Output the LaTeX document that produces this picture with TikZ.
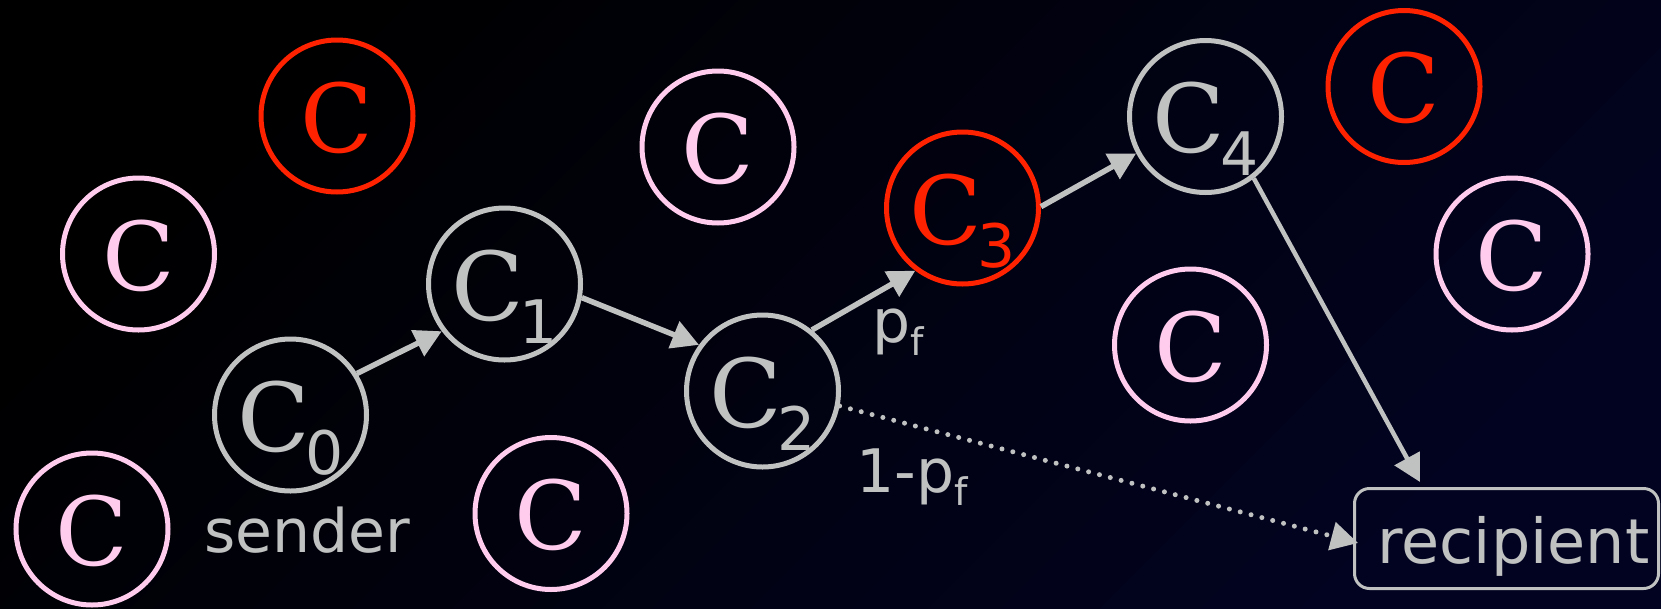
\documentclass[tikz,border=0pt]{standalone}
\usepackage{fontspec}
\setmainfont{DejaVu Sans}
\newfontfamily\cserif{DejaVu Serif}
\usetikzlibrary{arrows.meta,calc}
\definecolor{cred}{RGB}{255,34,0}
\definecolor{cpink}{RGB}{255,204,238}
\definecolor{cgray}{RGB}{192,194,194}
\definecolor{bgnavy}{RGB}{2,3,32}
\newcommand{\bigC}{{\fontsize{95}{95}\selectfont\cserif C}}
\newcommand{\Csub}[1]{\bigC\kern-5pt\raisebox{-23pt}{\fontsize{60}{60}\selectfont #1}}
\newcommand{\labsub}[1]{\raisebox{-13pt}{\fontsize{38}{38}\selectfont #1}}
\begin{document}
\begin{tikzpicture}[x=1pt,y=-1pt,
  cnode/.style={circle, draw=#1, text=#1, line width=5pt, minimum size=152pt,
    inner sep=0pt, text height=72pt, text depth=0pt},
  conn/.style={draw=cgray, line width=5.5pt, -{Triangle[length=27pt,width=28pt]}},
  dotconn/.style={conn, line width=5pt, line cap=round, dash pattern=on 0pt off 11.2pt},
  lab/.style={text=cgray, font=\fontsize{60}{72}\selectfont, inner sep=0pt}]
\useasboundingbox (0,0) rectangle (1661,608);
\shade[top color=black, bottom color=bgnavy, shading angle=45] (0,0) rectangle (1661,608);

% plain circles
\node[cnode=cred]  (redA)  at (337,116)   {\bigC};
\node[cnode=cred]  (redB)  at (1404,86.5) {\bigC};
\node[cnode=cpink] (pinkA) at (138.5,254) {\bigC};
\node[cnode=cpink] (pinkB) at (92,529)    {\bigC};
\node[cnode=cpink] (pinkC) at (551,513.5) {\bigC};
\node[cnode=cpink] (pinkD) at (718,147)   {\bigC};
\node[cnode=cpink] (pinkE) at (1512,254)  {\bigC};
\node[cnode=cpink] (pinkF) at (1190.5,345) {\bigC};

% path circles
\node[cnode=cgray] (C0) at (290.5,415)  {\Csub{0}};
\node[cnode=cgray] (C1) at (504.5,284)  {\Csub{1}};
\node[cnode=cgray] (C2) at (762.5,391)  {\Csub{2}};
\node[cnode=cred]  (C3) at (962.5,208)  {\Csub{3}};
\node[cnode=cgray] (C4) at (1205.5,116.5) {\Csub{4}};

% recipient box
\node[draw=cgray, line width=3pt, rounded corners=15pt, minimum width=304pt,
  minimum height=100pt, inner sep=0pt, text=cgray, font=\fontsize{62}{72}\selectfont,
  text height=62pt, text depth=12pt] (rcpt) at (1506.5,538.5) {\hspace*{14pt}recipient};

% labels
\node[lab, anchor=base] (sender) at (307.5,552) {sender};
\node[lab, anchor=base west] (pf) at (872,342) {p\labsub{f}};
\node[lab, anchor=base west] (qf) at (856,492) {1-p\labsub{f}};

% connectors
\draw[conn] (C0.32) -- (C1.217);
\draw[conn] (C1.-10) -- (C2.144);
\draw[conn] (C2.51) -- (C3.233);
\draw[conn] (C3.1) -- (C4.208);
\draw[conn, line width=4.5pt] (C4.-52) -- ([xshift=67pt,yshift=5pt]rcpt.north west);
\draw[dotconn] (C2.-11) -- ([xshift=5pt,yshift=-4.5pt]rcpt.west);
\end{tikzpicture}
\end{document}
